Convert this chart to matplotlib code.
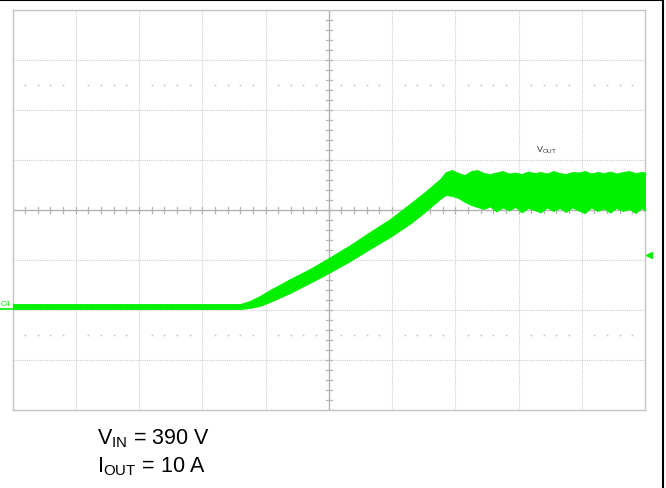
import numpy as np
import matplotlib
matplotlib.use("Agg")
import matplotlib.pyplot as plt
from matplotlib.lines import Line2D

plt.rcParams['font.family'] = ['Liberation Sans', 'DejaVu Sans']
plt.rcParams['mathtext.fontset'] = 'custom'
plt.rcParams['mathtext.rm'] = 'Liberation Sans'

# 画面の目盛り (div)
n_xdiv = 10
n_ydiv = 8

# 波形の包絡線 (div単位, 画面から読み取り)
t_div = [0.0, 1.38, 2.96, 3.60, 3.75, 3.91, 4.07, 4.39, 4.70, 5.00, 5.34, 5.65,
         5.97, 6.28, 6.52, 6.76, 6.85, 6.95, 7.05, 7.15, 7.25,
         7.35, 7.45, 7.55, 7.65, 7.75, 7.85, 7.95, 8.05, 8.15, 8.25, 8.35, 8.45,
         8.55, 8.65, 8.75, 8.85, 8.95, 9.05, 9.15, 9.25, 9.35, 9.45, 9.55, 9.65,
         9.75, 9.85, 9.95, 10.0]
v_top = [2.12, 2.12, 2.12, 2.12, 2.18, 2.28, 2.40, 2.62, 2.82, 3.04, 3.30, 3.56,
         3.82, 4.12, 4.36, 4.62, 4.76, 4.80, 4.74, 4.70, 4.78,
         4.80, 4.74, 4.72, 4.75, 4.78, 4.73, 4.75, 4.72, 4.77, 4.74, 4.76, 4.73,
         4.78, 4.74, 4.72, 4.76, 4.75, 4.78, 4.73, 4.76, 4.74, 4.77, 4.73, 4.76,
         4.78, 4.74, 4.76, 4.75]
v_bot = [2.02, 2.02, 2.02, 2.02, 2.04, 2.08, 2.16, 2.34, 2.54, 2.74, 2.98, 3.22,
         3.46, 3.72, 3.96, 4.22, 4.30, 4.28, 4.24, 4.16, 4.10,
         4.06, 4.02, 4.07, 3.97, 4.05, 3.99, 4.06, 3.95, 4.04, 4.00, 3.95, 4.05,
         3.98, 4.04, 3.96, 4.05, 3.99, 3.94, 4.05, 3.98, 4.03, 3.95, 4.04, 3.98,
         4.02, 3.94, 4.04, 3.99]

vin_label = "V$_{\\mathregular{IN}}$ = 390 V"
iout_label = "I$_{\\mathregular{OUT}}$ = 10 A"
trace_label = "V$_{\\mathregular{OUT}}$"
ch_label = "C4"

W, H = 666, 489
fig = plt.figure(figsize=(W / 100, H / 100), dpi=100)
ax = fig.add_axes([12.5 / W, (H - 411) / H, 632.5 / W, 400 / H])
ax.set_xlim(0, n_xdiv)
ax.set_ylim(0, n_ydiv)
ax.set_xticks([])
ax.set_yticks([])
for s in ax.spines.values():
    s.set_color("#c4c4c4")
    s.set_linewidth(1.0)

grid_col = "#cfcfcf"
for i in range(1, n_xdiv):
    if i != n_xdiv // 2:
        ax.axvline(i, color=grid_col, lw=0.8, ls=(0, (1, 1)), zorder=1)
for j in range(1, n_ydiv):
    if j != n_ydiv // 2:
        ax.axhline(j, color=grid_col, lw=0.8, ls=(0, (1, 1)), zorder=1)

# 中心軸と小目盛り
ax_col = "#b4b4b4"
ax.axvline(n_xdiv / 2, color=ax_col, lw=1.0, zorder=1)
ax.axhline(n_ydiv / 2, color=ax_col, lw=1.0, zorder=1)
minor_x = np.arange(0, n_xdiv + 0.01, 0.2)
minor_y = np.arange(0, n_ydiv + 0.01, 0.2)
for x in minor_x:
    ax.plot([x, x], [n_ydiv / 2 - 0.06, n_ydiv / 2 + 0.06], color=ax_col, lw=0.9, zorder=1)
for y in minor_y:
    ax.plot([n_xdiv / 2 - 0.05, n_xdiv / 2 + 0.05], [y, y], color=ax_col, lw=0.9, zorder=1)

# 点線マーカー (±2.5 div)
dots_x = [x for x in minor_x if abs(x - round(x)) > 0.01]
for y in [n_ydiv / 2 - 2.5, n_ydiv / 2 + 2.5]:
    ax.plot(dots_x, [y] * len(dots_x), ls="none", marker="s", ms=1.2,
            mew=0, color="#c8c8c8", zorder=1)

# 波形
green = "#00f000"
ax.fill_between(t_div, v_bot, v_top, color=green, lw=0.6, edgecolor=green, zorder=3)

ax.text(8.45, 5.22, trace_label, fontsize=6.5, color="#333333",
        ha="center", va="center")
ax.plot([10.07], [3.1], marker="<", ms=5, color=green, clip_on=False, zorder=4)

# チャンネル表示
fig.text(1 / W, 1 - 304 / H, ch_label, fontsize=5.5, color=green, va="center")
fig.add_artist(Line2D([0, 12 / W], [1 - 310 / H, 1 - 310 / H], color=green, lw=1.2))

# 外枠
fig.add_artist(Line2D([0, 663 / W], [1 - 1 / H, 1 - 1 / H], color="black", lw=1.5))
fig.add_artist(Line2D([663 / W, 663 / W], [0, 1 - 1 / H], color="black", lw=1.5))

fig.text(97 / W, 1 - 444 / H, vin_label, fontsize=15.5, va="baseline", ha="left")
fig.text(97 / W, 1 - 472 / H, iout_label, fontsize=15.5, va="baseline", ha="left")

plt.savefig("out.png", dpi=100)
plt.close()
